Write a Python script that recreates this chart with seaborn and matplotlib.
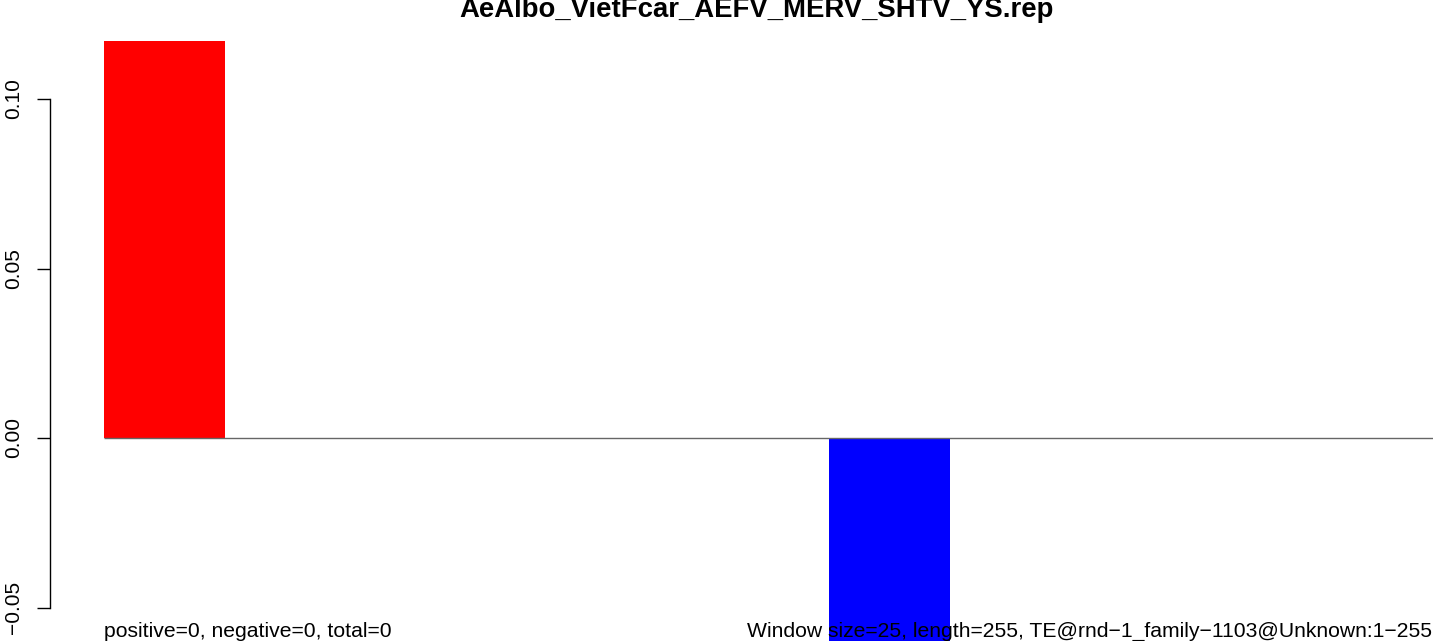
"""
Sliding-window TE bias barplot (R barplot look-alike).
"""

import numpy as np
import pandas as pd
import matplotlib
matplotlib.use("Agg")
import matplotlib.pyplot as plt
import seaborn as sns

# window values (window size 25 over 255 bp)
windows = list(range(11))
scores = [0.117, 0.0, 0.0, 0.0, 0.0, -0.08, 0.0, 0.0, 0.0, 0.0, 0.0]
bar_colors = ["red", "white", "white", "white", "white", "blue",
              "white", "white", "white", "white", "white"]
yticks = [-0.05, 0.00, 0.05, 0.10]
ytick_labels = ["\u22120.05", "0.00", "0.05", "0.10"]

title = "AeAlbo_VietFcar_AEFV_MERV_SHTV_YS.rep"
left_note = "positive=0, negative=0, total=0"
right_note = "Window size=25, length=255, TE@rnd\u22121_family\u22121103@Unknown:1\u2212255"

sns.set_theme(style="white")
plt.rcParams["font.family"] = ["Liberation Sans", "DejaVu Sans"]

W, H = 1433, 641
fig = plt.figure(figsize=(W / 100, H / 100), dpi=100)
ax = fig.add_axes([50 / W, 0, 1 - 50 / W, 1])

df = pd.DataFrame({"window": windows, "score": scores})
sns.barplot(data=df, x="window", y="score", hue="window", palette=bar_colors,
            width=1 / 1.2, saturation=1, linewidth=0, legend=False, ax=ax)

# pixel-based limits: bar 0 centre at 164.5 px, 145 px per window
ax.set_xlim((50 - 164.5) / 145, (W - 164.5) / 145)
ax.set_ylim(-(H - 438) / 3390, 438 / 3390)
ax.hlines(0, -0.5 / 1.2, len(windows), color="#666666", lw=1.0, zorder=3)

for s in ["top", "right", "bottom"]:
    ax.spines[s].set_visible(False)
ax.spines["left"].set_bounds(-0.05, 0.10)
ax.spines["left"].set_color("black")
ax.spines["left"].set_linewidth(1.0)
ax.set_xticks([])
ax.set_yticks(yticks)
ax.set_yticklabels(ytick_labels, rotation=90, va="center", fontsize=15)
ax.tick_params(axis="y", left=True, length=9.5, width=1.0, color="black",
               pad=10, labelcolor="black")
ax.set_xlabel("")
ax.set_ylabel("")

fig.text(757 / W, 1 - 17 / H, title, ha="center", va="baseline",
         fontsize=19.8, fontweight="bold", color="black")
fig.text(104 / W, 1 - 637 / H, left_note, ha="left", va="baseline",
         fontsize=15.2, color="black")
fig.text(1432 / W, 1 - 637 / H, right_note, ha="right", va="baseline",
         fontsize=15.2, color="black")

fig.savefig("out.png", dpi=100)
plt.close(fig)
